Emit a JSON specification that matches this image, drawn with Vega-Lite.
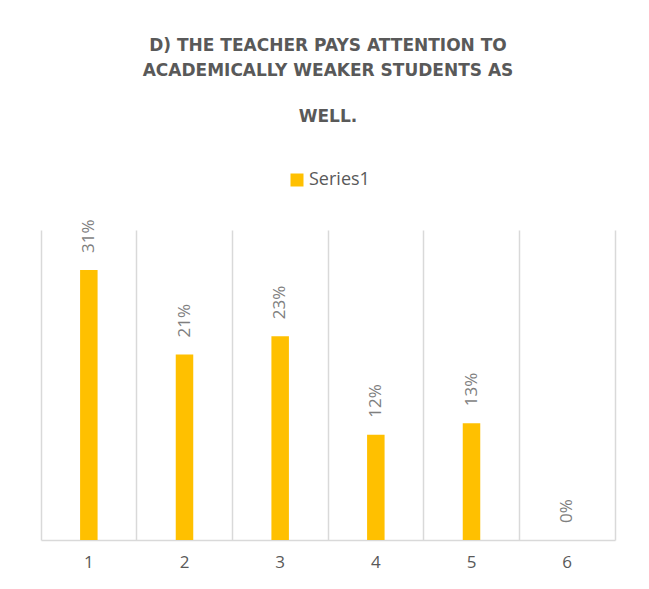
{
  "$schema": "https://vega.github.io/schema/vega-lite/v6.json",
  "autosize": "none",
  "width": 574,
  "height": 310,
  "padding": {"left": 41, "top": 230, "right": 34, "bottom": 49},
  "background": "white",
  "title": {
    "text": ["D) THE TEACHER PAYS ATTENTION TO", "ACADEMICALLY WEAKER STUDENTS AS"],
    "subtitle": "WELL.",
    "anchor": "middle",
    "frame": "group",
    "font": "DejaVu Sans",
    "fontSize": 17,
    "fontWeight": "bold",
    "color": "#595959",
    "lineHeight": 25,
    "subtitleFont": "DejaVu Sans",
    "subtitleFontSize": 17,
    "subtitleFontWeight": "bold",
    "subtitleColor": "#595959",
    "subtitlePadding": 29,
    "offset": 45
  },
  "data": {
    "values": [
      {"category": "1", "value": 0.31, "series": "Series1"},
      {"category": "2", "value": 0.213, "series": "Series1"},
      {"category": "3", "value": 0.234, "series": "Series1"},
      {"category": "4", "value": 0.121, "series": "Series1"},
      {"category": "5", "value": 0.134, "series": "Series1"},
      {"category": "6", "value": 0.0, "series": "Series1"}
    ]
  },
  "encoding": {
    "x": {
      "field": "category",
      "type": "ordinal",
      "scale": {"paddingInner": 0, "paddingOuter": 0},
      "axis": {
        "title": null,
        "labelAngle": 0,
        "labelFont": "Open Sans",
        "labelFontSize": 17,
        "labelColor": "#595959",
        "labelPadding": 14,
        "ticks": false,
        "domainColor": "#d9d9d9",
        "domainWidth": 1.5,
        "grid": true,
        "gridColor": "#d9d9d9",
        "gridWidth": 1.5,
        "bandPosition": 0
      }
    },
    "y": {
      "field": "value",
      "type": "quantitative",
      "scale": {"domain": [0, 0.356], "nice": false},
      "axis": {
        "orient": "right",
        "title": null,
        "labels": false,
        "ticks": false,
        "grid": false,
        "domain": true,
        "domainColor": "#d9d9d9",
        "domainWidth": 1.5
      }
    }
  },
  "layer": [
    {
      "mark": {"type": "bar", "width": {"band": 0.183}},
      "encoding": {
        "color": {
          "field": "series",
          "type": "nominal",
          "scale": {"range": ["#FFC000"]},
          "legend": {
            "title": null,
            "orient": "none",
            "legendX": 247,
            "legendY": -59,
            "symbolType": "square",
            "symbolSize": 169,
            "symbolStrokeWidth": 0,
            "symbolOpacity": 1,
            "labelFont": "Open Sans",
            "labelFontSize": 18,
            "labelColor": "#595959",
            "labelOffset": 3,
            "padding": 0
          }
        }
      }
    },
    {
      "mark": {
        "type": "text",
        "angle": 270,
        "align": "left",
        "baseline": "middle",
        "dx": 17,
        "font": "Open Sans",
        "fontSize": 17,
        "color": "#7f7f7f"
      },
      "encoding": {
        "text": {"field": "value", "type": "quantitative", "format": ".0%"}
      }
    }
  ],
  "config": {
    "view": {"stroke": null}
  }
}
